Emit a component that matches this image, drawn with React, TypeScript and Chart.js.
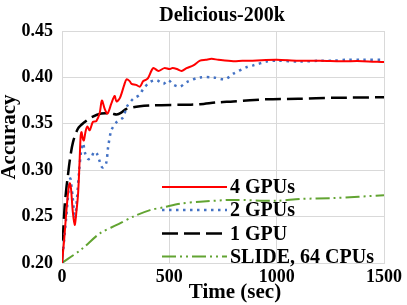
import React, { useEffect, useRef } from "react";
import { Chart, registerables } from "chart.js";

Chart.register(...registerables);

const TITLE = "Delicious-200k";
const X_TITLE = "Time (sec)";
const Y_TITLE = "Accuracy";
const X_TICKS = [0, 500, 1000, 1500];
const Y_TICKS = [0.2, 0.25, 0.3, 0.35, 0.4, 0.45];

const GPU4_T = [0, 10, 20, 30, 36, 42, 50, 59, 67, 75, 82, 87, 91, 97, 102, 110, 118, 129, 144, 160, 175, 186, 199, 212, 230, 245, 254, 270, 290, 301, 315, 324, 345, 363, 378, 387, 400, 425, 449, 477, 500, 515, 535, 557, 580, 612, 643, 670, 697, 728, 798, 840, 874, 930, 1000, 1100, 1200, 1300, 1400, 1500];
const GPU4_Y = [0.2, 0.225, 0.255, 0.279, 0.286, 0.28, 0.256, 0.241, 0.255, 0.275, 0.31, 0.337, 0.341, 0.334, 0.332, 0.342, 0.347, 0.343, 0.352, 0.353, 0.361, 0.375, 0.366, 0.361, 0.372, 0.38, 0.374, 0.378, 0.392, 0.398, 0.396, 0.393, 0.392, 0.39, 0.396, 0.397, 0.399, 0.41, 0.407, 0.41, 0.409, 0.41, 0.409, 0.407, 0.41, 0.413, 0.418, 0.419, 0.42, 0.419, 0.4175, 0.418, 0.418, 0.4185, 0.419, 0.418, 0.418, 0.4175, 0.4175, 0.4165];

const GPU2_T = [0, 20, 38, 50, 60, 70, 80, 90, 98, 108, 122, 135, 150, 162, 175, 188, 205, 215, 230, 255, 285, 301, 332, 360, 380, 410, 440, 472, 495, 520, 550, 581, 643, 705, 759, 798, 860, 891, 953, 1000, 1109, 1200, 1264, 1326, 1400, 1500];
const GPU2_Y = [0.2, 0.25, 0.291, 0.27, 0.248, 0.27, 0.3, 0.322, 0.329, 0.318, 0.312, 0.313, 0.32, 0.318, 0.31, 0.303, 0.307, 0.325, 0.343, 0.352, 0.357, 0.368, 0.377, 0.381, 0.388, 0.395, 0.397, 0.393, 0.397, 0.392, 0.39, 0.395, 0.4, 0.4, 0.398, 0.404, 0.411, 0.413, 0.417, 0.418, 0.417, 0.418, 0.418, 0.419, 0.419, 0.419];

const GPU1_T = [0, 5, 12, 20, 28, 36, 51, 75, 106, 137, 183, 230, 255, 276, 300, 363, 425, 559, 643, 720, 798, 953, 1100, 1264, 1500];
const GPU1_Y = [0.2, 0.23, 0.26, 0.28, 0.295, 0.31, 0.33, 0.345, 0.352, 0.357, 0.361, 0.361, 0.36, 0.362, 0.366, 0.369, 0.37, 0.3705, 0.371, 0.373, 0.374, 0.3764, 0.377, 0.378, 0.3786];

const SLIDE_T = [0, 92, 177, 255, 332, 410, 472, 550, 643, 798, 1000, 1109, 1264, 1500];
const SLIDE_Y = [0.2, 0.215, 0.232, 0.241, 0.25, 0.257, 0.26, 0.264, 0.266, 0.268, 0.267, 0.269, 0.27, 0.273];

const SERIES = [
  { label: "4 GPUs", t: GPU4_T, y: GPU4_Y, color: "#ff0000", width: 2, dash: [] as number[] },
  { label: "2 GPUs", t: GPU2_T, y: GPU2_Y, color: "#4472c4", width: 2.5, dash: [2.5, 4.5] },
  { label: "1 GPU", t: GPU1_T, y: GPU1_Y, color: "#000000", width: 2.5, dash: [16, 6] },
  { label: "SLIDE, 64 CPUs", t: SLIDE_T, y: SLIDE_Y, color: "#62a432", width: 2, dash: [14, 4, 2, 4, 2, 4] },
];

const FONT = "'Liberation Serif', 'Times New Roman', serif";

const overlayPlugin = {
  id: "overlay",
  afterDatasetsDraw(chart: any) {
    const ctx = chart.ctx as CanvasRenderingContext2D;
    const ds = chart.data.datasets;
    ctx.save();
    const x0 = 162, x1 = 227, tx = 230;
    const rows = [187, 210, 233.5, 256.5];
    ds.forEach((d: any, i: number) => {
      const y = rows[i];
      ctx.beginPath();
      ctx.setLineDash(d.borderDash || []);
      ctx.lineWidth = d.borderWidth;
      ctx.strokeStyle = d.borderColor;
      ctx.moveTo(x0, y);
      ctx.lineTo(x1, y);
      ctx.stroke();
      ctx.setLineDash([]);
      ctx.fillStyle = "#000";
      ctx.font = `bold 20px ${FONT}`;
      ctx.textAlign = "left";
      ctx.textBaseline = "middle";
      ctx.fillText(d.label, tx, y + 1);
    });
    ctx.restore();
  },
  afterDraw(chart: any) {
    const ctx = chart.ctx as CanvasRenderingContext2D;
    ctx.save();
    ctx.fillStyle = "#000";
    ctx.textAlign = "center";
    ctx.textBaseline = "middle";
    ctx.font = `bold 20px ${FONT}`;
    ctx.fillText(TITLE, 222, 16);
    ctx.font = `bold 21px ${FONT}`;
    ctx.fillText(X_TITLE, 235, 293);
    ctx.translate(10, 137);
    ctx.rotate(-Math.PI / 2);
    ctx.fillText(Y_TITLE, 0, 0);
    ctx.restore();
  },
};

export default function App() {
  const ref = useRef<HTMLCanvasElement>(null);
  useEffect(() => {
    document.body.style.margin = "0";
    const chart = new Chart(ref.current!, {
      type: "line",
      data: {
        datasets: SERIES.map((s) => ({
          label: s.label,
          data: s.t.map((t, i) => ({ x: t, y: s.y[i] })),
          borderColor: s.color,
          backgroundColor: s.color,
          borderWidth: s.width,
          borderDash: s.dash,
          pointRadius: 0,
          tension: 0.3,
          fill: false,
        })),
      },
      options: {
        animation: false,
        responsive: false,
        layout: { padding: { top: 31, right: 23, left: 0, bottom: 0 } },
        plugins: { legend: { display: false }, title: { display: false }, tooltip: { enabled: false } },
        scales: {
          x: {
            type: "linear",
            min: X_TICKS[0],
            max: X_TICKS[X_TICKS.length - 1],
            afterFit: (s: any) => { s.height = 42; },
            afterBuildTicks: (s: any) => { s.ticks = X_TICKS.map((v) => ({ value: v })); },
            grid: { color: "#d9d9d9", drawTicks: false, lineWidth: 1 },
            border: { color: "#d9d9d9" },
            ticks: { color: "#000", padding: 4, font: { family: FONT, size: 18, weight: "bold" }, maxRotation: 0, callback: (v: any) => String(v) },
          },
          y: {
            min: Y_TICKS[0],
            max: Y_TICKS[Y_TICKS.length - 1],
            afterFit: (s: any) => { s.width = 62; },
            afterBuildTicks: (s: any) => { s.ticks = Y_TICKS.map((v) => ({ value: v })); },
            grid: { color: "#d9d9d9", drawTicks: false, lineWidth: 1 },
            border: { color: "#d9d9d9" },
            ticks: { color: "#000", padding: 9, font: { family: FONT, size: 18, weight: "bold" }, callback: (v: any) => Number(v).toFixed(2) },
          },
        },
      },
      plugins: [overlayPlugin],
    });
    return () => chart.destroy();
  }, []);
  return (
    <div style={{ width: 407, height: 305 }}>
      <canvas ref={ref} width={407} height={305} />
    </div>
  );
}
